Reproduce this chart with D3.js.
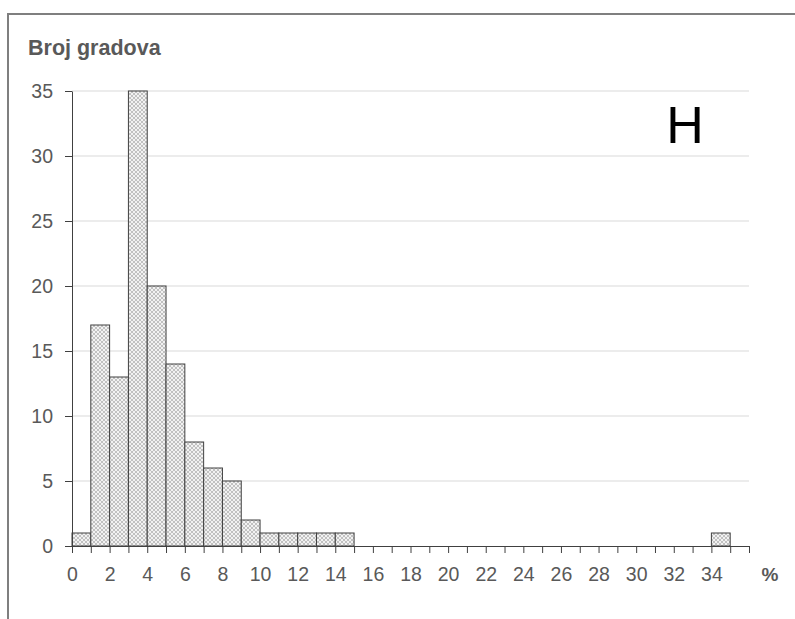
<!DOCTYPE html>
<html>
<head>
<meta charset="utf-8">
<script src="https://cdn.jsdelivr.net/npm/d3@7"></script>
<style>
  body { margin: 0; background: #fff; }
  svg { display: block; }
</style>
</head>
<body>
<svg width="795" height="619"></svg>
<script>
'use strict';

// histogram bins: [start, end) in %, number of cities
let binStarts = [0, 1, 2, 3, 4, 5, 6, 7, 8, 9, 10, 11, 12, 13, 14, 34];
let counts    = [1, 17, 13, 35, 20, 14, 8, 6, 5, 2, 1, 1, 1, 1, 1, 1];
let yTicks = [0, 5, 10, 15, 20, 25, 30, 35];
let xLabels = d3.range(0, 35, 2);

let svg = d3.select("svg");

// frame
svg.append("rect")
  .attr("x", 8).attr("y", 14)
  .attr("width", 800).attr("height", 620)
  .attr("fill", "none")
  .attr("stroke", "#7f7f7f")
  .attr("stroke-width", 2);

let defs = svg.append("defs");
let pat = defs.append("pattern")
  .attr("id", "hatch")
  .attr("patternUnits", "userSpaceOnUse")
  .attr("width", 4).attr("height", 4);
pat.append("rect").attr("width", 4).attr("height", 4).attr("fill", "#f2f2f2");
pat.append("path")
  .attr("d", "M0,0L4,4M4,0L0,4")
  .attr("stroke", "#b5b5b5")
  .attr("stroke-width", 0.8);

let x = d3.scaleLinear().domain([0, 36]).range([72, 749]);
let y = d3.scaleLinear().domain([0, 35]).range([546, 91]);

let tickFont = "19.5px 'Liberation Sans', Arial, sans-serif";

// grid
svg.append("g")
  .selectAll("line")
  .data(yTicks.filter(d => d > 0))
  .join("line")
    .attr("x1", x(0)).attr("x2", x(36))
    .attr("y1", d => y(d)).attr("y2", d => y(d))
    .attr("stroke", "#d9d9d9")
    .attr("stroke-width", 1);

// bars
svg.append("g")
  .selectAll("rect")
  .data(binStarts)
  .join("rect")
    .attr("x", d => x(d))
    .attr("y", (d, i) => y(counts[i]))
    .attr("width", d => x(d + 1) - x(d))
    .attr("height", (d, i) => y(0) - y(counts[i]))
    .attr("fill", "url(#hatch)")
    .attr("stroke", "#404040")
    .attr("stroke-width", 1);

// y axis
let yAxis = svg.append("g")
  .attr("transform", `translate(${x(0)},0)`)
  .call(d3.axisLeft(y).tickValues(yTicks).tickSize(7).tickSizeOuter(0).tickPadding(12));
yAxis.select(".domain").attr("stroke", "#404040");
yAxis.selectAll(".tick line").attr("stroke", "#404040");
yAxis.selectAll("text")
  .attr("fill", "#595959")
  .style("font", tickFont);

// x axis: minor ticks every 1, labels every 2
let xAxis = svg.append("g")
  .attr("transform", `translate(0,${y(0)})`)
  .call(d3.axisBottom(x).tickValues(d3.range(0, 37)).tickSize(7).tickSizeOuter(0)
    .tickFormat(d => xLabels.includes(d) ? d : "").tickPadding(14));
xAxis.select(".domain").attr("stroke", "#404040");
xAxis.selectAll(".tick line").attr("stroke", "#404040");
xAxis.selectAll("text")
  .attr("fill", "#595959")
  .style("font", tickFont);

svg.append("text")
  .attr("x", 770).attr("y", 581)
  .attr("text-anchor", "middle")
  .attr("fill", "#595959")
  .style("font", "bold 19px 'Liberation Sans', Arial, sans-serif")
  .text("%");

svg.append("text")
  .attr("x", 28).attr("y", 55)
  .attr("fill", "#595959")
  .style("font", "bold 21.5px 'Liberation Sans', Arial, sans-serif")
  .text("Broj gradova");

svg.append("text")
  .attr("x", 685).attr("y", 143)
  .attr("text-anchor", "middle")
  .attr("fill", "#000")
  .style("font", "52px 'Liberation Sans', Arial, sans-serif")
  .text("H");
</script>
</body>
</html>
